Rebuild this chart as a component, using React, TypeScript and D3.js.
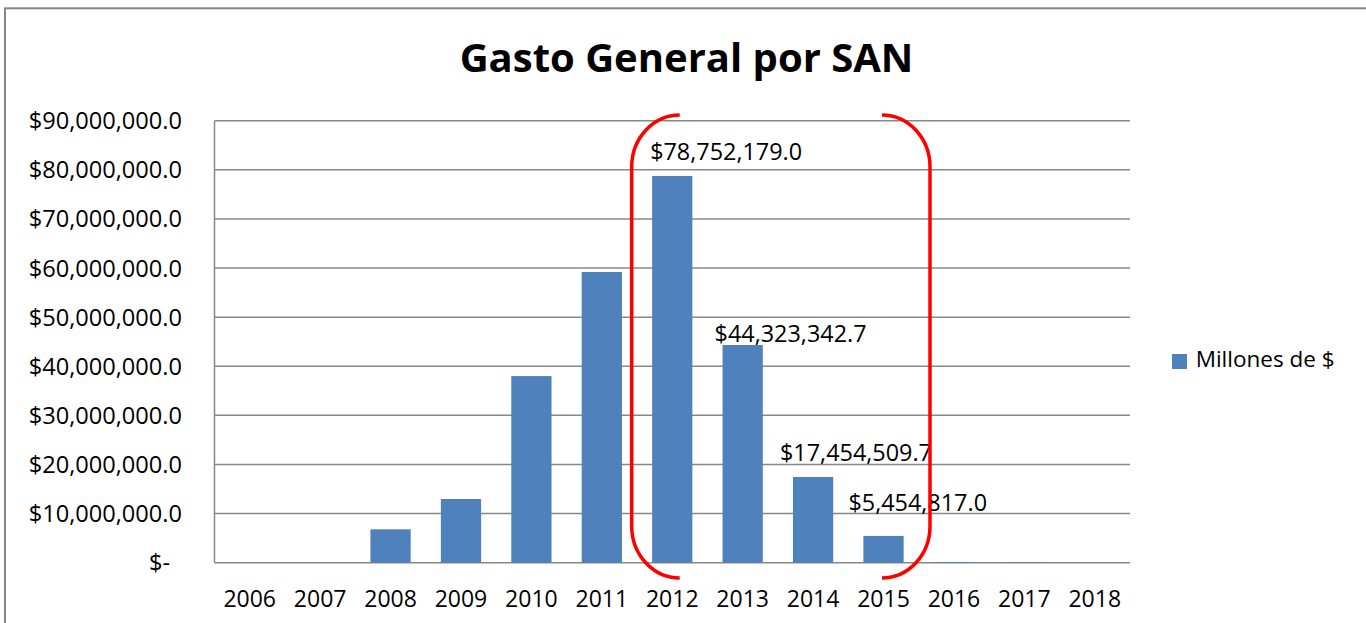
import React from "react";
import * as d3 from "d3";

const years = ["2006","2007","2008","2009","2010","2011","2012","2013","2014","2015","2016","2017","2018"];
const values = [0, 0, 6800000, 12970000, 38000000, 59200000, 78752179.0, 44323342.7, 17454509.7, 5454817.0, 150000, 100000, 0];
const labeledYears = ["2012","2013","2014","2015"];
const labelTexts = ["$78,752,179.0","$44,323,342.7","$17,454,509.7","$5,454,817.0"];
const yTicks = [0,10e6,20e6,30e6,40e6,50e6,60e6,70e6,80e6,90e6];
const seriesName = "Millones de $";
const title = "Gasto General por SAN";

// label placement tweaks (layout only)
const labelDx = [-2, -8, -13, -15];
const labelDy = [16, 3, 16, 25];

const W = 1366, H = 623;
const left = 214.5, right = 1130, top = 120.7, bottom = 562.7;
const FONT = "'Open Sans', 'Liberation Sans', sans-serif";
const BAR = "#4F81BD";
const GRID = "#888888";

export default function App() {
  const x = d3.scaleBand<string>().domain(years).range([left, right]).paddingInner(0.4286).paddingOuter(0.2143);
  const y = d3.scaleLinear().domain([0, 90e6]).range([bottom, top]);
  const fmt = (v: number) => v === 0 ? "$-" : "$" + d3.format(",.1f")(v);

  // red bracket (rounded rectangle corners + sides) around 2012-2015
  const bx0 = 631.7, bx1 = 930, by0 = 115, by1 = 578, rx = 48, ry = 52;
  const leftPath = `M${bx0 + rx},${by0} A${rx},${ry} 0 0 0 ${bx0},${by0 + ry} L${bx0},${by1 - ry} A${rx},${ry} 0 0 0 ${bx0 + rx},${by1}`;
  const rightPath = `M${bx1 - rx},${by0} A${rx},${ry} 0 0 1 ${bx1},${by0 + ry} L${bx1},${by1 - ry} A${rx},${ry} 0 0 1 ${bx1 - rx},${by1}`;

  return (
    <svg width={W} height={H} style={{ position: "absolute", left: 0, top: 0, background: "#fff" }} fontFamily={FONT}>
      <rect x={0} y={0} width={W} height={H} fill="#fff" />
      <rect x={5} y={8.3} width={W + 20} height={H + 20} fill="none" stroke="#868686" strokeWidth={2} />
      <text x={686.5} y={71.7} textAnchor="middle" fontSize={40} fontWeight="bold" fill="#000">{title}</text>

      {yTicks.map((t) => (
        <g key={t}>
          <line x1={left} x2={right} y1={y(t)} y2={y(t)} stroke={GRID} strokeWidth={1.5} />
          <text x={t === 0 ? 170 : 182} y={y(t) + 8.5} textAnchor="end" fontSize={23.6} fill="#000">{fmt(t)}</text>
        </g>
      ))}
      <line x1={left} x2={left} y1={top} y2={bottom} stroke={GRID} strokeWidth={1.5} />

      {years.map((yr, i) => (
        <g key={yr}>
          {values[i] > 0 && (
            <rect x={x(yr)} y={y(values[i])} width={x.bandwidth()} height={bottom - y(values[i])} fill={BAR} />
          )}
          <text x={(x(yr) as number) + x.bandwidth() / 2} y={606.7} textAnchor="middle" fontSize={23} fill="#000">{yr}</text>
        </g>
      ))}

      {labeledYears.map((yr, i) => {
        const v = values[years.indexOf(yr)];
        return (
          <text key={yr} x={(x(yr) as number) + labelDx[i]} y={y(v) - labelDy[i]} fontSize={23.4} fill="#000">{labelTexts[i]}</text>
        );
      })}

      <path d={leftPath} fill="none" stroke="#FF0000" strokeWidth={3.5} />
      <path d={rightPath} fill="none" stroke="#FF0000" strokeWidth={3.5} />

      <rect x={1172} y={354} width={15} height={15} fill={BAR} />
      <text x={1195.7} y={367} fontSize={22.5} fill="#000">{seriesName}</text>
    </svg>
  );
}
